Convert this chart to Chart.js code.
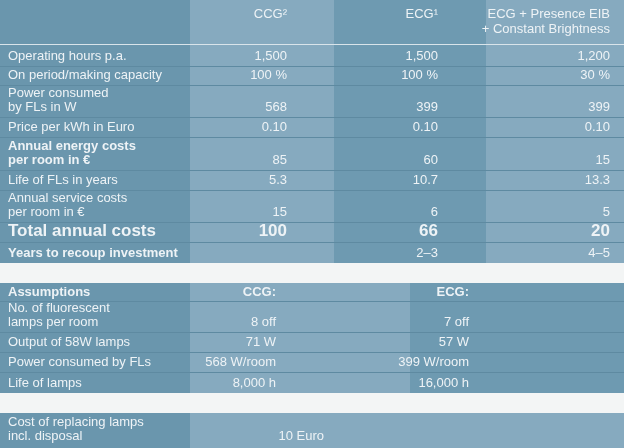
<!DOCTYPE html>
<html><head><meta charset="utf-8">
<script src="https://cdn.jsdelivr.net/npm/chart.js@4"></script>
<style>html,body{margin:0;padding:0;background:#f3f5f5}#wrap{width:624px;height:448px}</style>
</head><body><div id="wrap"><canvas id="tbl"></canvas></div>
<script>
const headers = ["", "CCG²", "ECG¹", "ECG + Presence EIB\n+ Constant Brightness"];
const rowLabels = ["Operating hours p.a.", "On period/making capacity", "Power consumed\nby FLs in W",
  "Price per kWh in Euro", "Annual energy costs\nper room in €", "Life of FLs in years",
  "Annual service costs\nper room in €", "Total annual costs", "Years to recoup investment"];
const ccgValues = ["1,500", "100 %", "568", "0.10", "85", "5.3", "15", "100", ""];
const ecgValues = ["1,500", "100 %", "399", "0.10", "60", "10.7", "6", "66", "2–3"];
const eibValues = ["1,200", "30 %", "399", "0.10", "15", "13.3", "5", "20", "4–5"];
const boldLabelRows = [4, 8];

const assumptionLabels = ["No. of fluorescent\nlamps per room", "Output of 58W lamps", "Power consumed by FLs", "Life of lamps"];
const assumptionCcg = ["8 off", "71 W", "568 W/room", "8,000 h"];
const assumptionEcg = ["7 off", "57 W", "399 W/room", "16,000 h"];

const footLabel = "Cost of replacing lamps\nincl. disposal";
const footValue = "10 Euro";

// layout
const rowEdges = [44, 66, 85, 117, 137, 170, 190, 222, 242, 263];
const asmEdges = [283, 301, 332, 352, 372, 393];
const footEdges = [413, 448];
const DARK = "#6a96ad", LIGHT = "#86aabf", MID = "#6e9ab1", TXT = "#eef3f6";

function drawTable(chart) {
  const c = chart.ctx;
  const W = chart.width;
  c.save();
  c.fillStyle = "#f3f5f5";
  c.fillRect(0, 0, W, chart.height);

  function cols(y0, y1, spans) {
    spans.forEach(([a, b, col]) => { c.fillStyle = col; c.fillRect(a, y0, b - a, y1 - y0); });
  }
  function text(str, x, yBottom, align, font, lh) {
    c.font = font; c.fillStyle = TXT; c.textAlign = align; c.textBaseline = "alphabetic";
    const lines = str.split("\n");
    lines.forEach((l, i) => c.fillText(l, x, yBottom - (lines.length - 1 - i) * lh));
  }
  function rule(y, w, col) { c.fillStyle = col; c.fillRect(0, y, w, 1); }

  const reg = "13px 'Liberation Sans', Arial", bold = "bold 13px 'Liberation Sans', Arial";
  const big = "bold 17px 'Liberation Sans', Arial";
  const xs = [8, 287, 438, 610];

  cols(0, rowEdges[rowEdges.length - 1], [[0, 190, DARK], [190, 334, LIGHT], [334, 486, MID], [486, W, LIGHT]]);
  headers.forEach((h, i) => {
    if (!h) return;
    text(h, xs[i], 18 + (h.split("\n").length - 1) * 15, "right", reg, 15);
  });
  rule(rowEdges[0], W, "#d9e4ea");
  rowLabels.forEach((lab, r) => {
    const yb = rowEdges[r + 1] - 6;
    const vf = r === 7 ? big : reg;
    const lf = r === 7 ? big : (boldLabelRows.includes(r) ? bold : reg);
    text(lab, xs[0], yb, "left", lf, 14);
    text(ccgValues[r], xs[1], yb, "right", vf, 14);
    text(ecgValues[r], xs[2], yb, "right", vf, 14);
    text(eibValues[r], xs[3], yb, "right", vf, 14);
    if (r < rowLabels.length - 1) rule(rowEdges[r + 1], W, "#5e8aa1");
  });

  cols(asmEdges[0], asmEdges[asmEdges.length - 1], [[0, 190, DARK], [190, 410, LIGHT], [410, W, MID]]);
  text("Assumptions", xs[0], asmEdges[1] - 5, "left", bold, 14);
  text("CCG:", 276, asmEdges[1] - 5, "right", bold, 14);
  text("ECG:", 469, asmEdges[1] - 5, "right", bold, 14);
  rule(asmEdges[1], W, "#5e8aa1");
  assumptionLabels.forEach((lab, r) => {
    const yb = asmEdges[r + 2] - 6;
    text(lab, xs[0], yb, "left", reg, 14);
    text(assumptionCcg[r], 276, yb, "right", reg, 14);
    text(assumptionEcg[r], 469, yb, "right", reg, 14);
    if (r < assumptionLabels.length - 1) rule(asmEdges[r + 2], W, "#5e8aa1");
  });

  cols(footEdges[0], footEdges[1], [[0, 190, DARK], [190, W, LIGHT]]);
  text(footLabel, xs[0], footEdges[1] - 8, "left", reg, 14);
  text(footValue, 324, footEdges[1] - 8, "right", reg, 14);
  c.restore();
}

new Chart(document.getElementById("tbl"), {
  type: "bar",
  data: { labels: rowLabels, datasets: [{ data: ccgValues.map(() => null) }] },
  options: {
    responsive: true,
    maintainAspectRatio: false,
    animation: false,
    events: [],
    plugins: { legend: { display: false }, tooltip: { enabled: false } },
    scales: { x: { display: false }, y: { display: false } }
  },
  plugins: [{ id: "table", afterDraw: drawTable }]
});
</script></body></html>
